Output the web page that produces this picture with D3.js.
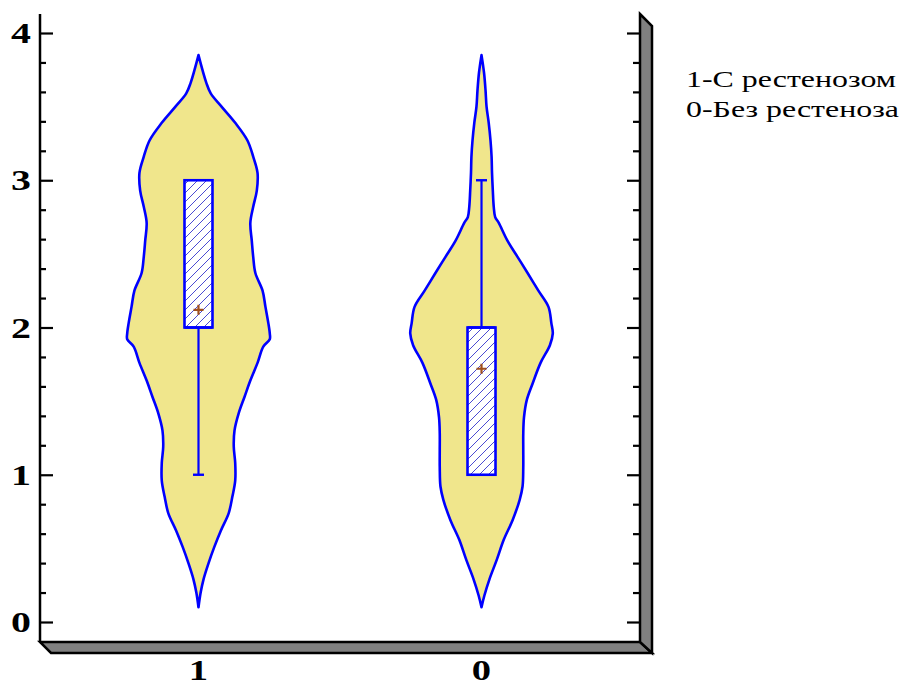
<!DOCTYPE html>
<html>
<head>
<meta charset="utf-8">
<script src="https://cdn.jsdelivr.net/npm/d3@7"></script>
<style>
  html, body { margin: 0; padding: 0; background: #fff; }
  svg { display: block; }
</style>
</head>
<body>
<svg id="chart" width="900" height="687"></svg>
<script>
// ---- data ----
const groups = ["1", "0"];
const q1Values = [2, 1];
const q3Values = [3, 2];
const medianValues = [2, 2];
const whiskerLow = [1, 1];
const whiskerHigh = [3, 3];
const meanValues = [2.12, 1.72];

// density profile of group "1" (value levels and relative density)
const levels1 = [3.85, 3.66, 3.59, 3.50, 3.39, 3.27, 3.16, 3.05, 2.93, 2.82, 2.71, 2.59, 2.48, 2.37,
                 2.25, 2.14, 2.03, 1.96, 1.92, 1.87, 1.76, 1.64, 1.53, 1.42, 1.30, 1.19, 1.08, 0.96,
                 0.85, 0.74, 0.62, 0.51, 0.40, 0.29, 0.20, 0.10];
const density1 = [0, 0.11, 0.17, 0.32, 0.51, 0.68, 0.76, 0.82, 0.81, 0.76, 0.72, 0.74, 0.76, 0.79,
                  0.89, 0.93, 0.97, 0.99, 0.99, 0.90, 0.82, 0.72, 0.64, 0.56, 0.50, 0.49, 0.51, 0.51,
                  0.47, 0.42, 0.31, 0.22, 0.14, 0.07, 0.03, 0];

// density profile of group "0"
const levels0 = [3.85, 3.73, 3.61, 3.50, 3.39, 3.27, 3.16, 3.05, 2.93, 2.82, 2.75, 2.71, 2.59, 2.48,
                 2.37, 2.25, 2.14, 2.03, 1.96, 1.88, 1.76, 1.62, 1.51, 1.39, 1.28, 1.17, 1.05, 0.92,
                 0.83, 0.69, 0.56, 0.42, 0.29, 0.18, 0.10];
const density0 = [0, 0.035, 0.056, 0.07, 0.10, 0.125, 0.14, 0.146, 0.157, 0.17, 0.19, 0.24, 0.36, 0.50,
                  0.64, 0.79, 0.93, 0.97, 0.99, 0.95, 0.82, 0.71, 0.63, 0.59, 0.58, 0.58, 0.58, 0.57,
                  0.53, 0.43, 0.31, 0.21, 0.11, 0.04, 0];

const yTicks = [0, 1, 2, 3, 4];
const yMinorTicks = d3.range(0, 4.001, 0.2).filter(v => Math.abs(v - Math.round(v)) > 1e-6);
const legendLines = ["1-С рестенозом", "0-Без рестеноза"];

// ---- layout ----
const frame = { left: 40, right: 640, top: 14, bottom: 642, depth: 12 };
const svg = d3.select("#chart");
const stretch = 1.33;           // horizontal stretch applied to the text glyphs
const serif = "'Liberation Serif', 'Times New Roman', serif";

const y = d3.scaleLinear().domain([0, 4]).range([622, 33]);
const x = d3.scalePoint().domain(groups).range([frame.left, frame.right]).padding(0.56);
const w = d3.scaleLinear().domain([0, 1]).range([0, 72]);

// hatch pattern for the boxes
const defs = svg.append("defs");
const pat = defs.append("pattern")
  .attr("id", "hatch").attr("patternUnits", "userSpaceOnUse")
  .attr("width", 9).attr("height", 9);
pat.append("rect").attr("width", 9).attr("height", 9).attr("fill", "#fff");
pat.append("path").attr("d", "M-1,10 L10,-1 M-1,1 L1,-1 M8,10 L10,8")
  .attr("stroke", "#4a4ad2").attr("stroke-width", 1);

// ---- 3D frame: floor and right wall ----
const d = frame.depth;
svg.append("polygon")
  .attr("points", [[frame.left, frame.bottom], [frame.right, frame.bottom],
                   [frame.right + d, frame.bottom + d - 1], [frame.left + d - 1, frame.bottom + d - 1]].join(" "))
  .attr("fill", "#808080").attr("stroke", "#000").attr("stroke-width", 2.5).attr("stroke-linejoin", "miter");
svg.append("polygon")
  .attr("points", [[frame.right, frame.top], [frame.right + d, frame.top + d],
                   [frame.right + d, frame.bottom + d - 1], [frame.right, frame.bottom]].join(" "))
  .attr("fill", "#808080").attr("stroke", "#000").attr("stroke-width", 2.5).attr("stroke-linejoin", "miter");

// left axis line
svg.append("line")
  .attr("x1", frame.left).attr("x2", frame.left)
  .attr("y1", frame.top).attr("y2", frame.bottom)
  .attr("stroke", "#000").attr("stroke-width", 2.5);

// tick marks on the left axis and on the right wall
function ticks(gen, xpos, values, size) {
  const g = svg.append("g").attr("transform", `translate(${xpos},0)`)
    .call(gen(y).tickValues(values).tickSize(size).tickFormat(""));
  g.select(".domain").remove();
  g.selectAll(".tick line").attr("stroke", "#000").attr("stroke-width", 2.2);
}
ticks(d3.axisRight, frame.left, yTicks, 13);
ticks(d3.axisRight, frame.left, yMinorTicks, 6);
ticks(d3.axisLeft, frame.right, yTicks, 13);
ticks(d3.axisLeft, frame.right, yMinorTicks, 7);

// y tick labels
svg.append("g").selectAll("text").data(yTicks).join("text")
  .attr("transform", v => `translate(31,${y(v)}) scale(${stretch},1)`)
  .attr("dy", "0.34em")
  .attr("text-anchor", "end")
  .attr("font-family", serif)
  .attr("font-weight", "bold").attr("font-size", 30)
  .text(v => v);

// x category labels
svg.append("g").selectAll("text").data(groups).join("text")
  .attr("transform", gname => `translate(${x(gname)},680) scale(${stretch},1)`)
  .attr("text-anchor", "middle")
  .attr("font-family", serif)
  .attr("font-weight", "bold").attr("font-size", 29)
  .text(gname => gname);

// ---- violins ----
const profiles = [
  { key: groups[0], levels: levels1, density: density1 },
  { key: groups[1], levels: levels0, density: density0 }
];
profiles.forEach(p => {
  const cx = x(p.key);
  const pts = p.levels.map((v, i) => ({ v, dens: p.density[i] }));
  const area = d3.area()
    .y(pt => y(pt.v))
    .x0(pt => cx - w(pt.dens))
    .x1(pt => cx + w(pt.dens))
    .curve(d3.curveCatmullRom.alpha(0.5));
  svg.append("path").datum(pts)
    .attr("d", area)
    .attr("fill", "#f0e68c")
    .attr("stroke", "#0000ff").attr("stroke-width", 2.6).attr("stroke-linejoin", "round");
});

// ---- boxes, whiskers, means ----
const boxHalf = 14, capHalf = 5.5;
groups.forEach((gname, i) => {
  const cx = x(gname);
  const g = svg.append("g");
  // whiskers
  if (whiskerHigh[i] > q3Values[i]) {
    g.append("line").attr("x1", cx).attr("x2", cx)
      .attr("y1", y(q3Values[i])).attr("y2", y(whiskerHigh[i]))
      .attr("stroke", "#0000ff").attr("stroke-width", 2.2);
    g.append("line").attr("x1", cx - capHalf).attr("x2", cx + capHalf)
      .attr("y1", y(whiskerHigh[i])).attr("y2", y(whiskerHigh[i]))
      .attr("stroke", "#0000ff").attr("stroke-width", 2.4);
  }
  if (whiskerLow[i] < q1Values[i]) {
    g.append("line").attr("x1", cx).attr("x2", cx)
      .attr("y1", y(q1Values[i])).attr("y2", y(whiskerLow[i]))
      .attr("stroke", "#0000ff").attr("stroke-width", 2.2);
    g.append("line").attr("x1", cx - capHalf).attr("x2", cx + capHalf)
      .attr("y1", y(whiskerLow[i])).attr("y2", y(whiskerLow[i]))
      .attr("stroke", "#0000ff").attr("stroke-width", 2.4);
  }
  // box
  g.append("rect")
    .attr("x", cx - boxHalf).attr("width", boxHalf * 2)
    .attr("y", y(q3Values[i])).attr("height", y(q1Values[i]) - y(q3Values[i]))
    .attr("fill", "url(#hatch)")
    .attr("stroke", "#0000ff").attr("stroke-width", 2.6);
  // median
  g.append("line").attr("x1", cx - boxHalf).attr("x2", cx + boxHalf)
    .attr("y1", y(medianValues[i])).attr("y2", y(medianValues[i]))
    .attr("stroke", "#0000ff").attr("stroke-width", 2.6);
  // mean marker
  const my = y(meanValues[i]);
  g.append("path")
    .attr("d", `M${cx - 5},${my} H${cx + 5} M${cx},${my - 5} V${my + 5}`)
    .attr("stroke", "#a0501e").attr("stroke-width", 2.2);
});

// ---- legend text ----
svg.append("g").selectAll("text").data(legendLines).join("text")
  .attr("transform", (t, i) => `translate(686,${87 + i * 30}) scale(${stretch},1)`)
  .attr("font-family", serif)
  .attr("font-size", 24)
  .attr("fill", "#000")
  .text(t => t);
</script>
</body>
</html>
